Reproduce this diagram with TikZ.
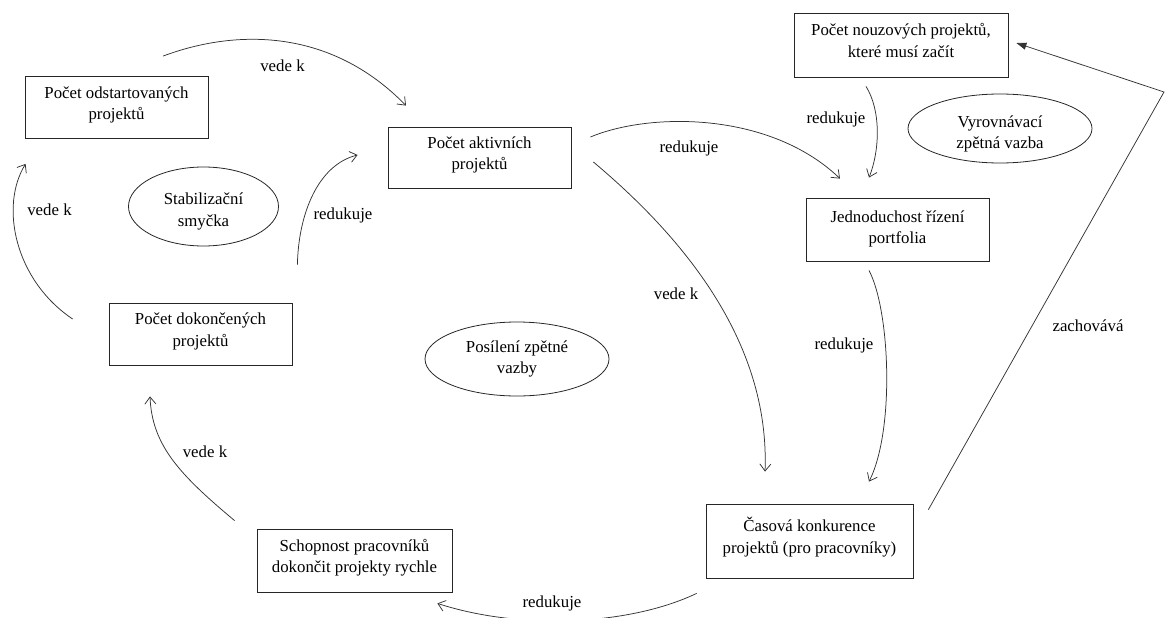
\documentclass[tikz,border=0pt]{standalone}
\usepackage{fontspec}
\setmainfont{Liberation Serif}
\usetikzlibrary{arrows.meta,shapes.geometric,calc}
\begin{document}
\begin{tikzpicture}[x=1pt,y=-1pt,
  fnt/.style={font=\fontsize{16.8}{21.5}\selectfont},
  box/.style={draw=black!85, line width=0.8pt, rectangle, align=center,
    inner sep=0pt, text depth=8.7pt, fnt},
  loopnote/.style={draw=black!85, line width=0.8pt, ellipse, align=center,
    inner sep=0pt, fnt},
  link/.style={draw=black!80, line width=0.75pt,
    -{Straight Barb[length=7pt,width=11pt]}},
  keeps/.style={draw=black!80, line width=0.75pt,
    -{Triangle[length=10pt,width=7pt]}},
  edgetext/.style={inner sep=0pt, fnt}]
\useasboundingbox (0,0) rectangle (1165,618);

% variables
\node[box, minimum width=183pt, minimum height=62pt] (odst) at (116.5,107.5) {Počet odstartovaných\\projektů};
\node[box, minimum width=183pt, minimum height=61pt] (aktiv) at (479.5,157.5) {Počet aktivních\\projektů};
\node[box, minimum width=214pt, minimum height=64pt] (nouz) at (901,45) {Počet nouzových projektů,\\které musí začít};
\node[box, minimum width=183pt, minimum height=63pt, text depth=4.7pt] (jedn) at (897.5,229.5) {Jednoduchost řízení\\portfolia};
\node[box, minimum width=183pt, minimum height=62pt] (dok) at (200.5,334) {Počet dokončených\\projektů};
\node[box, minimum width=195pt, minimum height=63pt] (schop) at (354.5,560.5) {Schopnost pracovníků\\dokončit projekty rychle};
\node[box, minimum width=207pt, minimum height=74pt, text depth=11.7pt] (cas) at (809.5,541) {Časová konkurence\\projektů (pro pracovníky)};

% loop labels
\node[loopnote, minimum width=150pt, minimum height=79pt, text height=43pt, text depth=3.7pt] (stab) at (203.5,206.5) {Stabilizační\\smyčka};
\node[loopnote, minimum width=184pt, minimum height=69pt, text height=44pt, text depth=3.7pt] (vyr) at (1000,128.5) {Vyrovnávací\\zpětná vazba};
\node[loopnote, minimum width=184pt, minimum height=74pt] (pos) at (517,359) {Posílení zpětné\\vazby};

% connector end points
\coordinate (a0) at ($(odst.north)+(46.5,-20)$);
\coordinate (a1) at ($(aktiv.north)+(-73.5,-21)$);
\coordinate (b0) at ($(dok.north east)+(5,-38)$);
\coordinate (b1) at ($(aktiv.west)+(-30,-2.5)$);
\coordinate (c0) at ($(dok.west)+(-36,-15)$);
\coordinate (c1) at ($(odst.south west)+(1,25)$);
\coordinate (d0) at ($(schop.north west)+(-22,-8)$);
\coordinate (d1) at ($(dok.south)+(-50.5,31)$);
\coordinate (e0) at ($(cas.south west)+(-9,15)$);
\coordinate (e1) at ($(schop.south east)+(-15,11)$);
\coordinate (f0) at ($(aktiv.east)+(22,4.5)$);
\coordinate (f1) at ($(cas.north)+(-44.5,-32)$);
\coordinate (g0) at ($(aktiv.east)+(19,-20.5)$);
\coordinate (g1) at ($(jedn.north)+(-57.5,-19)$);
\coordinate (h0) at ($(nouz.south)+(-35,9)$);
\coordinate (h1) at ($(jedn.north)+(-28.5,-20)$);
\coordinate (i0) at ($(jedn.south)+(-28.5,9)$);
\coordinate (i1) at ($(cas.north)+(59.5,-22)$);
\coordinate (j0) at ($(cas.north east)+(15,6)$);
\coordinate (jbend) at (1164,92);
\coordinate (j1) at ($(nouz.east)+(8,-2)$);

% connectors
\draw[link] (a0) .. controls +(72,-27) and +(-76,-78) .. (a1);
\draw[link] (b0) .. controls +(1,-50) and +(-40,10) .. (b1);
\draw[link] (c0) .. controls +(-58,-39) and +(-26,42) .. (c1);
\draw[link] (d0) .. controls +(-55,-46) and +(2,49) .. (d1);
\draw[link] (e0) .. controls +(-67,32) and +(83,27) .. (e1);
\draw[link] (f0) .. controls +(87,73) and +(5,-132) .. (f1);
\draw[link] (g0) .. controls +(60,-25) and +(-70,-67) .. (g1);
\draw[link] (h0) .. controls +(15,24) and +(11,-28) .. (h1);
\draw[link] (i0) .. controls +(21,40) and +(26,-52) .. (i1);
\draw[keeps] (j0) -- (jbend) -- (j1);

% connector texts
\node[edgetext] (ta) at (282.5,65.5) {vede k};
\node[edgetext] (tb) at (343,215) {redukuje};
\node[edgetext] (tc) at (49.5,210) {vede k};
\node[edgetext] (td) at (205,452) {vede k};
\node[edgetext] (te) at (552,603) {redukuje};
\node[edgetext] (tf) at (676,293.5) {vede k};
\node[edgetext] (tg) at (689,148) {redukuje};
\node[edgetext] (th) at (836,119) {redukuje};
\node[edgetext] (ti) at (844,345) {redukuje};
\node[edgetext] (tj) at (1088,326) {zachovává};
\end{tikzpicture}
\end{document}
